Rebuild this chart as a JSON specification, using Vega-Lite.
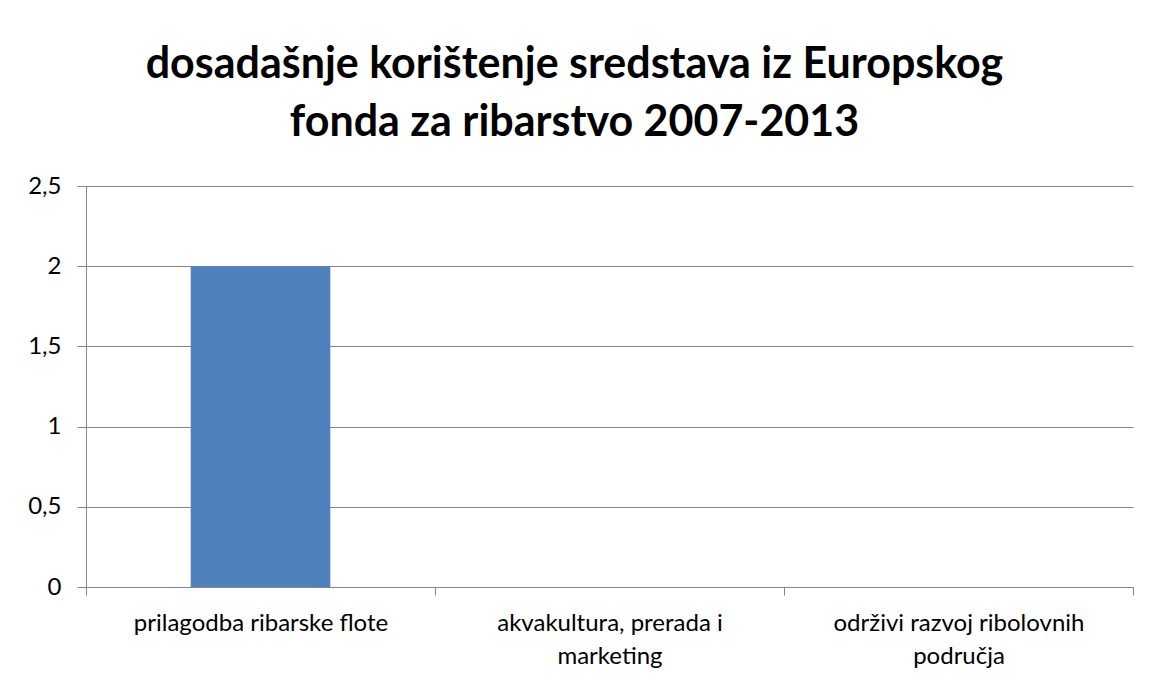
{
  "$schema": "https://vega.github.io/schema/vega-lite/v6.json",
  "autosize": {"type": "none"},
  "width": 1047,
  "height": 401,
  "padding": {"left": 86, "top": 186, "right": 16, "bottom": 93},
  "background": "white",
  "title": {
    "text": ["dosadašnje korištenje sredstava iz Europskog", "fonda za ribarstvo 2007-2013"],
    "font": "Lato",
    "fontSize": 43,
    "fontWeight": "bold",
    "color": "#000000",
    "lineHeight": 58,
    "anchor": "middle",
    "frame": "group",
    "dx": -35,
    "offset": 29
  },
  "data": {
    "values": [
      {"category": "prilagodba ribarske flote", "value": 2},
      {"category": "akvakultura, prerada i marketing", "value": 0},
      {"category": "održivi razvoj ribolovnih područja", "value": 0}
    ]
  },
  "mark": {"type": "bar", "color": "#4F81BD", "width": {"band": 0.4}},
  "encoding": {
    "x": {
      "field": "category",
      "type": "nominal",
      "sort": null,
      "scale": {"paddingInner": 0, "paddingOuter": 0},
      "axis": {
        "title": null,
        "labelAngle": 0,
        "tickBand": "extent",
        "tickSize": 8,
        "tickColor": "#868686",
        "domainColor": "#868686",
        "labelFont": "Lato",
        "labelFontSize": 24,
        "labelColor": "#000000",
        "labelPadding": 16,
        "labelLineHeight": 33,
        "labelLimit": 400,
        "labelExpr": "datum.value == 'akvakultura, prerada i marketing' ? ['akvakultura, prerada i', 'marketing'] : datum.value == 'održivi razvoj ribolovnih područja' ? ['održivi razvoj ribolovnih', 'područja'] : datum.value",
        "grid": false
      }
    },
    "y": {
      "field": "value",
      "type": "quantitative",
      "scale": {"domain": [0, 2.5], "nice": false},
      "axis": {
        "title": null,
        "values": [0, 0.5, 1, 1.5, 2, 2.5],
        "labelExpr": "replace(toString(datum.value), '.', ',')",
        "tickSize": 9,
        "tickColor": "#868686",
        "domainColor": "#868686",
        "gridColor": "#868686",
        "grid": true,
        "labelFont": "Lato",
        "labelFontSize": 24,
        "labelColor": "#000000",
        "labelPadding": 16
      }
    }
  },
  "config": {
    "view": {"stroke": null}
  }
}
